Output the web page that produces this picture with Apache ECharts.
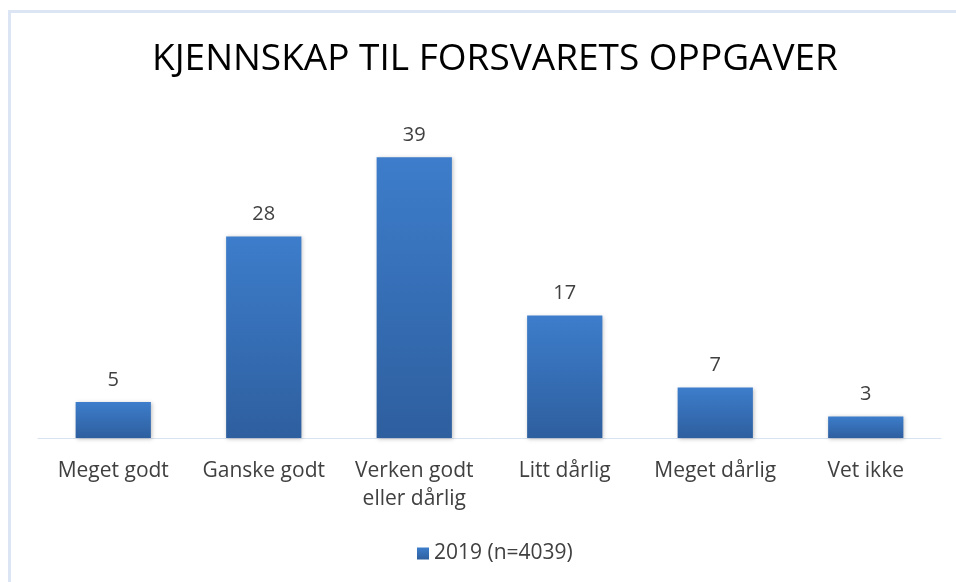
<!DOCTYPE html>
<html>
<head>
<meta charset="utf-8">
<script src="https://cdn.jsdelivr.net/npm/echarts@6/dist/echarts.min.js"></script>
<style>
html,body{margin:0;padding:0;background:#fff;overflow:hidden;width:956px;height:582px;}
#frame{position:absolute;left:8px;top:10px;width:960px;height:600px;border-left:3px solid #dbe5f4;border-top:3px solid #dbe5f4;box-sizing:border-box;}
#chart{position:absolute;left:0;top:0;width:956px;height:582px;}
</style>
</head>
<body>
<div id="frame"></div>
<div id="chart"></div>
<script>
const title = 'KJENNSKAP TIL FORSVARETS OPPGAVER';
const categories = ['Meget godt', 'Ganske godt', 'Verken godt\neller dårlig', 'Litt dårlig', 'Meget dårlig', 'Vet ikke'];
const seriesName = '2019 (n=4039)';
const values = [5, 28, 39, 17, 7, 3];

const font = 'Open Sans';
const chart = echarts.init(document.getElementById('chart'));
chart.setOption({
  animation: false,
  title: {
    text: title, left: 147, top: 36,
    textStyle: {fontFamily: font, fontSize: 37, fontWeight: 'normal', color: '#000'}
  },
  legend: {
    bottom: 13, left: 412, itemWidth: 12, itemHeight: 12, itemGap: 8,
    icon: 'rect',
    textStyle: {fontFamily: font, fontSize: 21, color: '#404040'},
    data: [seriesName]
  },
  grid: {left: 38, right: 15, top: 150, bottom: 144},
  xAxis: {
    type: 'category', data: categories,
    axisLine: {lineStyle: {color: '#d9e2f0', width: 1}},
    axisTick: {show: false},
    axisLabel: {fontFamily: font, fontSize: 21, color: '#404040', margin: 19, lineHeight: 28, interval: 0}
  },
  yAxis: {type: 'value', min: 0, max: 40, show: false, splitLine: {show: false}},
  series: [{
    name: seriesName, type: 'bar', data: values, barCategoryGap: '50%',
    itemStyle: {
      color: new echarts.graphic.LinearGradient(0, 0, 0, 1, [
        {offset: 0, color: '#3d7dcb'}, {offset: 1, color: '#2e5f9f'}
      ]),
      shadowColor: 'rgba(0,0,0,0.25)', shadowBlur: 4, shadowOffsetX: 1, shadowOffsetY: 1
    },
    label: {show: true, position: 'top', distance: 12, fontFamily: font, fontSize: 20, color: '#404040'}
  }]
});
</script>
</body>
</html>
